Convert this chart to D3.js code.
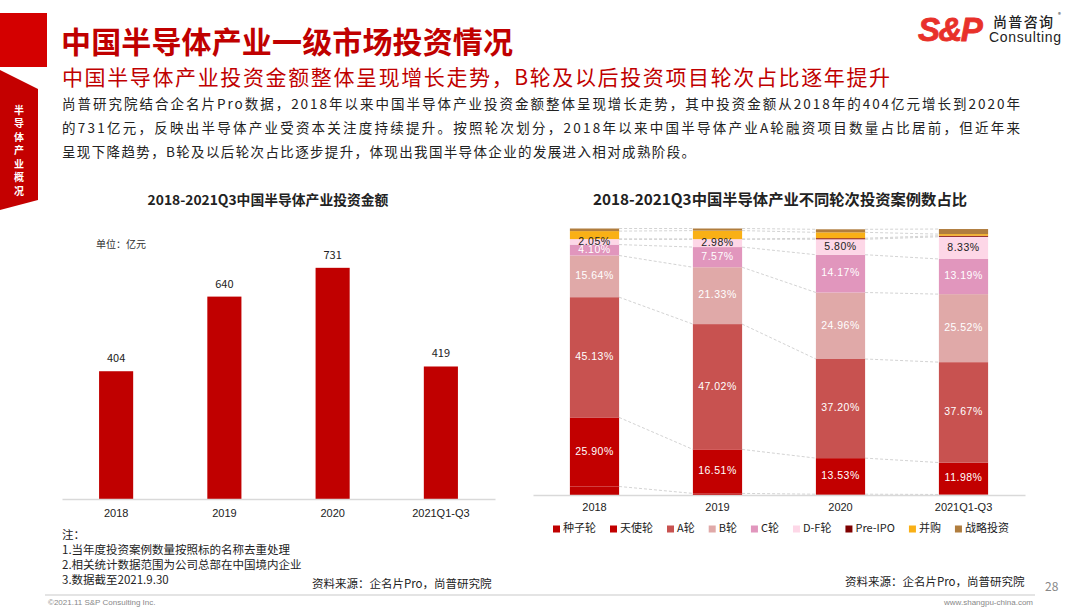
<!DOCTYPE html>
<html>
<head>
<meta charset="utf-8">
<script src="https://cdn.jsdelivr.net/npm/d3@7"></script>
<style>
  body { margin: 0; background: #fff; }
  svg { display: block; font-family: "Noto Sans CJK SC", "Noto Sans", sans-serif; }
</style>
</head>
<body>
<div id="chart"></div>
<script>
// left chart data
const years = ['2018', '2019', '2020', '2021Q1-Q3']
const amounts = [404, 640, 731, 419]

// right chart data: share of deals per round, by year (%)
const rounds = ['种子轮', '天使轮', 'A轮', 'B轮', 'C轮', 'D-F轮', 'Pre-IPO', '并购', '战略投资']
const seed = [3.2, 0.6, 0.3, 0.2]
const angel = [25.90, 16.51, 13.53, 11.98]
const roundA = [45.13, 47.02, 37.20, 37.67]
const roundB = [15.64, 21.33, 24.96, 25.52]
const roundC = [4.10, 7.57, 14.17, 13.19]
const roundDF = [2.05, 2.98, 5.80, 8.33]
const preIPO = [0, 0, 0.4, 0.4]
const merger = [3.0, 3.2, 2.2, 0.6]
const strategic = [0.98, 0.79, 1.14, 1.91]
const labelled = ['天使轮', 'A轮', 'B轮', 'C轮', 'D-F轮']

const roundColors = ['#c00000', '#c20000', '#c85250', '#e0a9a8', '#e196bd', '#fdd7e7', '#7f0000', '#f9b016', '#b07d3e']

const bodyLines = [
	'尚普研究院结合企名片Pro数据，2018年以来中国半导体产业投资金额整体呈现增长走势，其中投资金额从2018年的404亿元增长到2020年',
	'的731亿元，反映出半导体产业受资本关注度持续提升。按照轮次划分，2018年以来中国半导体产业A轮融资项目数量占比居前，但近年来',
	'呈现下降趋势，B轮及以后轮次占比逐步提升，体现出我国半导体企业的发展进入相对成熟阶段。'
]
const bodyWidths = [958, 958, 633]
const notes = ['注：', '1.当年度投资案例数量按照标的名称去重处理', '2.相关统计数据范围为公司总部在中国境内企业', '3.数据截至2021.9.30']

const width = 1080
const height = 611
const red = '#c00000'

const svg = d3.select('#chart').append('svg')
	.attr('width', width)
	.attr('height', height)

/**
 * Page header
 */
svg.append('rect').attr('x', 0).attr('y', 13).attr('width', 47).attr('height', 54).attr('fill', '#d40000')

svg.append('path')
	.attr('d', 'M0,70 L38,89 L38,200 L0,210 Z')
	.attr('fill', '#c40000')

'半导体产业概况'.split('').forEach((c, i) => {
	svg.append('text')
		.attr('x', 19).attr('y', 111 + i * 13.5)
		.attr('text-anchor', 'middle').attr('dominant-baseline', 'middle')
		.attr('font-size', 10).attr('font-weight', 700).attr('fill', '#fff')
		.text(c)
})

svg.append('text')
	.attr('x', 61).attr('y', 53)
	.attr('font-size', 30).attr('font-weight', 700).attr('fill', red)
	.attr('textLength', 452).attr('lengthAdjust', 'spacing')
	.text('中国半导体产业一级市场投资情况')

svg.append('text')
	.attr('x', 62).attr('y', 85)
	.attr('font-size', 21).attr('fill', red)
	.attr('textLength', 828).attr('lengthAdjust', 'spacing')
	.text('中国半导体产业投资金额整体呈现增长走势，B轮及以后投资项目轮次占比逐年提升')

bodyLines.forEach((line, i) => {
	svg.append('text')
		.attr('x', 62).attr('y', 109 + i * 24)
		.attr('font-size', 13.5).attr('fill', '#222')
		.attr('textLength', bodyWidths[i]).attr('lengthAdjust', 'spacing')
		.text(line)
})

// logo
svg.append('text')
	.attr('x', 918).attr('y', 41)
	.attr('font-family', 'Liberation Sans, Arial, sans-serif')
	.attr('font-size', 33).attr('font-weight', 900).attr('font-style', 'italic')
	.attr('fill', '#e8312a').attr('letter-spacing', -1.5)
	.attr('stroke', '#e8312a').attr('stroke-width', 0.8)
	.text('S&P')
svg.append('text')
	.attr('x', 993).attr('y', 27)
	.attr('font-size', 14).attr('font-weight', 500).attr('fill', '#222')
	.attr('textLength', 60).attr('lengthAdjust', 'spacing')
	.text('尚普咨询')
svg.append('text')
	.attr('x', 1058).attr('y', 17)
	.attr('font-size', 6).attr('fill', '#222')
	.text('®')
svg.append('text')
	.attr('x', 989).attr('y', 42)
	.attr('font-family', 'Liberation Sans, Arial, sans-serif')
	.attr('font-size', 14).attr('fill', '#222')
	.attr('textLength', 72).attr('lengthAdjust', 'spacing')
	.text('Consulting')

/**
 * Left chart: investment amount
 */
svg.append('text')
	.attr('x', 268).attr('y', 205)
	.attr('text-anchor', 'middle')
	.attr('font-size', 13.8).attr('font-weight', 700).attr('fill', '#222')
	.text('2018-2021Q3中国半导体产业投资金额')

svg.append('text')
	.attr('x', 96).attr('y', 248)
	.attr('font-size', 10).attr('fill', '#333')
	.text('单位：亿元')

const xLeft = d3.scaleBand()
	.domain(years)
	.range([62, 495])
	.paddingInner(0.685)
	.paddingOuter(0.3425)

const yLeft = d3.scaleLinear()
	.domain([0, 800])
	.range([499, 246])

svg.append('g')
	.selectAll('rect')
	.data(amounts)
	.join('rect')
		.attr('x', (d, i) => xLeft(years[i]))
		.attr('y', d => yLeft(d))
		.attr('width', xLeft.bandwidth())
		.attr('height', d => yLeft(0) - yLeft(d))
		.attr('fill', red)

svg.append('g')
	.selectAll('text')
	.data(amounts)
	.join('text')
		.attr('x', (d, i) => xLeft(years[i]) + xLeft.bandwidth() / 2)
		.attr('y', d => yLeft(d) - 9)
		.attr('text-anchor', 'middle')
		.attr('font-size', 11).attr('fill', '#222')
		.text(d => d)

const axisLeft = svg.append('g')
	.attr('transform', `translate(0, ${yLeft(0)})`)
	.call(d3.axisBottom(xLeft).tickSize(0).tickPadding(10))
axisLeft.select('.domain').attr('stroke', '#d9d9d9').attr('stroke-width', 1.5)
axisLeft.selectAll('text').attr('font-size', 11).attr('fill', '#222').attr('font-family', 'Liberation Sans, Arial, sans-serif')

/**
 * Right chart: share of deals by round
 */
svg.append('text')
	.attr('x', 780).attr('y', 205)
	.attr('text-anchor', 'middle')
	.attr('font-size', 15.3).attr('font-weight', 700).attr('fill', '#222')
	.text('2018-2021Q3中国半导体产业不同轮次投资案例数占比')

const roundValues = [seed, angel, roundA, roundB, roundC, roundDF, preIPO, merger, strategic]
const table = years.map((y, i) => {
	const row = {year: y}
	rounds.forEach((r, j) => row[r] = roundValues[j][i])
	return row
})

const stacked = d3.stack().keys(rounds)(table)

const xRight = d3.scaleBand()
	.domain(years)
	.range([533, 1025])
	.paddingInner(0.6)
	.paddingOuter(0.3)

const yRight = d3.scaleLinear()
	.domain([0, 100])
	.range([495, 228.5])

const color = d3.scaleOrdinal()
	.domain(rounds)
	.range(roundColors)

// series connector lines between bars
const connectors = svg.append('g')
stacked.forEach(series => {
	for (let i = 0; i < years.length - 1; i++) {
		connectors.append('line')
			.attr('x1', xRight(years[i]) + xRight.bandwidth())
			.attr('x2', xRight(years[i + 1]))
			.attr('y1', yRight(series[i][1]))
			.attr('y2', yRight(series[i + 1][1]))
			.attr('stroke', '#c8c8c8')
			.attr('stroke-width', 0.8)
			.attr('stroke-dasharray', '3,2')
	}
})

const layers = svg.append('g')
	.selectAll('g')
	.data(stacked)
	.join('g')
		.attr('fill', d => color(d.key))

layers.selectAll('rect')
	.data(d => d)
	.join('rect')
		.attr('x', d => xRight(d.data.year))
		.attr('y', d => yRight(d[1]))
		.attr('width', xRight.bandwidth())
		.attr('height', d => yRight(d[0]) - yRight(d[1]))

// segment labels
stacked.filter(s => labelled.includes(s.key)).forEach(series => {
	svg.append('g')
		.selectAll('text')
		.data(series)
		.join('text')
			.attr('x', d => xRight(d.data.year) + xRight.bandwidth() / 2)
			.attr('y', d => yRight((d[0] + d[1]) / 2))
			.attr('text-anchor', 'middle')
			.attr('dominant-baseline', 'middle')
			.attr('font-size', 10.5)
			.attr('fill', series.key === 'D-F轮' ? '#222' : '#fff')
			.attr('font-family', 'Liberation Sans, Arial, sans-serif')
			.attr('letter-spacing', 0.5)
			.text(d => (d[1] - d[0]).toFixed(2) + '%')
})

const axisRight = svg.append('g')
	.attr('transform', `translate(0, ${yRight(0)})`)
	.call(d3.axisBottom(xRight).tickSize(0).tickPadding(8))
axisRight.select('.domain').attr('stroke', '#d9d9d9').attr('stroke-width', 1.5)
axisRight.selectAll('text').attr('font-size', 11).attr('fill', '#222').attr('font-family', 'Liberation Sans, Arial, sans-serif')

// legend
const legend = svg.append('g').attr('transform', 'translate(553, 529)')
let lx = 0
rounds.forEach(r => {
	const item = legend.append('g').attr('transform', `translate(${lx}, 0)`)
	item.append('rect').attr('x', 0).attr('y', -3.5).attr('width', 7).attr('height', 7).attr('fill', color(r))
	const t = item.append('text')
		.attr('x', 10).attr('y', 0)
		.attr('dominant-baseline', 'middle')
		.attr('font-size', 11).attr('fill', '#222')
		.text(r)
	lx += 10 + t.node().getComputedTextLength() + 14
})

/**
 * Notes and footer
 */
notes.forEach((n, i) => {
	svg.append('text')
		.attr('x', 62).attr('y', 539 + i * 15)
		.attr('font-size', 11.5).attr('fill', '#222')
		.text(n)
})

svg.append('text')
	.attr('x', 312).attr('y', 588)
	.attr('font-size', 11.5).attr('fill', '#222')
	.text('资料来源：企名片Pro，尚普研究院')
svg.append('text')
	.attr('x', 845).attr('y', 586)
	.attr('font-size', 11.5).attr('fill', '#222')
	.text('资料来源：企名片Pro，尚普研究院')

svg.append('text')
	.attr('x', 1045).attr('y', 591)
	.attr('font-size', 12).attr('fill', '#888')
	.text('28')

svg.append('line')
	.attr('x1', 45).attr('x2', 1035)
	.attr('y1', 595).attr('y2', 595)
	.attr('stroke', '#bbb').attr('stroke-width', 0.8)

svg.append('text')
	.attr('x', 48).attr('y', 605)
	.attr('font-size', 8).attr('fill', '#888')
	.attr('font-family', 'Liberation Sans, Arial, sans-serif')
	.text('©2021.11  S&P Consulting Inc.')
svg.append('text')
	.attr('x', 1033).attr('y', 605)
	.attr('text-anchor', 'end')
	.attr('font-size', 8).attr('fill', '#888')
	.attr('font-family', 'Liberation Sans, Arial, sans-serif')
	.text('www.shangpu-china.com')
</script>
</body>
</html>
